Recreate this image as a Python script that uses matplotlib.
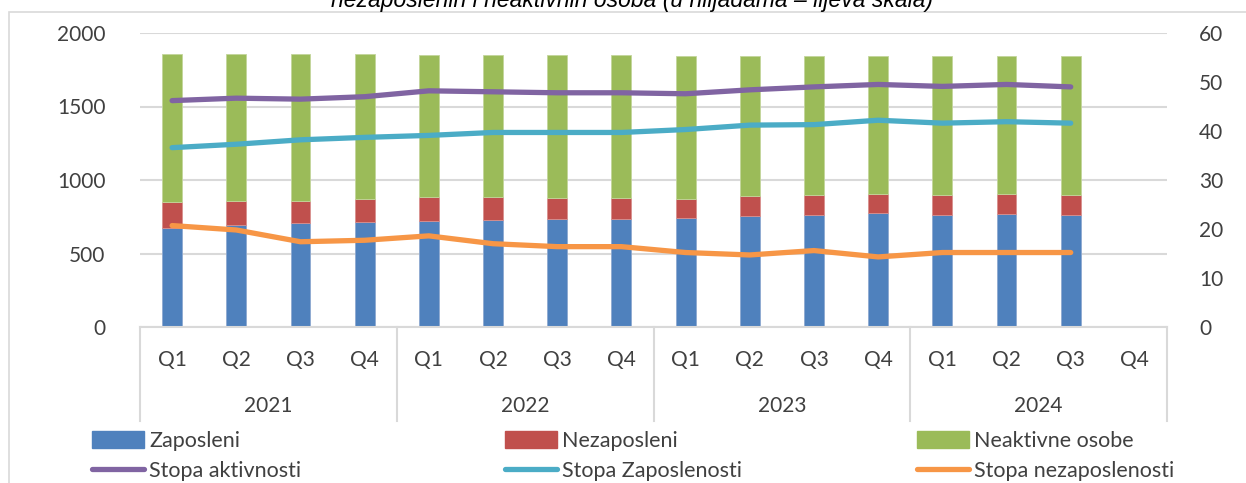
import matplotlib
matplotlib.use("Agg")
import matplotlib.pyplot as plt
import matplotlib.transforms as mtransforms
from matplotlib.patches import Rectangle
from matplotlib.lines import Line2D
import numpy as np

plt.rcParams['font.family'] = ['Lato', 'DejaVu Sans']

quarters = ["Q1", "Q2", "Q3", "Q4"] * 4
years = ["2021", "2022", "2023", "2024"]

zaposleni = [675, 692, 705, 717, 719, 730, 732, 732, 739, 755, 760, 775, 764, 769, 764, np.nan]
nezaposleni_top = [852, 859, 857, 869, 887, 882, 875, 875, 871, 889, 900, 907, 900, 907, 900, np.nan]
ukupno = [1855, 1855, 1855, 1855, 1849, 1849, 1849, 1849, 1846, 1846, 1846, 1846, 1846, 1846, 1846, np.nan]
nezaposleni = list(np.array(nezaposleni_top) - np.array(zaposleni))
neaktivne = list(np.array(ukupno) - np.array(nezaposleni_top))

stopa_aktivnosti = [46.2, 46.7, 46.5, 47.0, 48.2, 48.0, 47.8, 47.8, 47.6, 48.4, 49.0, 49.5, 49.1, 49.5, 49.0, np.nan]
stopa_zaposlenosti = [36.6, 37.3, 38.2, 38.7, 39.1, 39.7, 39.7, 39.7, 40.3, 41.2, 41.3, 42.2, 41.6, 41.9, 41.6, np.nan]
stopa_nezaposlenosti = [20.7, 19.8, 17.4, 17.7, 18.6, 17.0, 16.4, 16.4, 15.2, 14.7, 15.6, 14.3, 15.2, 15.2, 15.2, np.nan]

title = "nezaposlenih i neaktivnih osoba (u hiljadama – lijeva skala)"

c_blue, c_red, c_green = "#4F81BD", "#C0504D", "#9BBB59"
c_purple, c_cyan, c_orange = "#8064A2", "#4BACC6", "#F79646"
grid_c = "#D9D9D9"
text_c = "#404040"
fs = 15

W, H = 1246, 483
fig = plt.figure(figsize=(W / 100, H / 100), dpi=100)

# outer chart border
fig.patches.append(Rectangle((9 / W, -0.1), 1.2, 1 - 12 / H + 0.1, transform=fig.transFigure,
                             fill=False, edgecolor=grid_c, linewidth=1.2))

fig.text(0.507, 1 - 7 / H, title, ha="center", va="baseline", fontsize=16.5,
         style="italic", family=["Liberation Sans", "DejaVu Sans"], color="black")

left, right, top, bottom = 140, 1167, 33, 327
ax = fig.add_axes([left / W, 1 - bottom / H, (right - left) / W, (bottom - top) / H])
ax2 = ax.twinx()
ax.set_zorder(ax2.get_zorder() - 1)
ax.patch.set_visible(False)

x = np.arange(len(quarters))
bw = 0.31
ax.bar(x, zaposleni, bw, color=c_blue, edgecolor="#8EA9D0", linewidth=0.6, zorder=3)
ax.bar(x, nezaposleni, bw, bottom=zaposleni, color=c_red, edgecolor="#D9908E", linewidth=0.6, zorder=3)
ax.bar(x, neaktivne, bw, bottom=nezaposleni_top, color=c_green, edgecolor="#C3D69B", linewidth=0.6, zorder=3)

lw = 3.8
ax2.plot(x, stopa_aktivnosti, color=c_purple, lw=lw, solid_capstyle="round", solid_joinstyle="round")
ax2.plot(x, stopa_zaposlenosti, color=c_cyan, lw=lw, solid_capstyle="round", solid_joinstyle="round")
ax2.plot(x, stopa_nezaposlenosti, color=c_orange, lw=lw, solid_capstyle="round", solid_joinstyle="round")

ax.set_xlim(-0.5, len(quarters) - 0.5)
ax.set_ylim(0, 2000)
ax.set_yticks([0, 500, 1000, 1500, 2000])
ax2.set_ylim(0, 60)
ax2.set_yticks([0, 10, 20, 30, 40, 50, 60])

ax.yaxis.grid(True, color=grid_c, linewidth=1.5, zorder=0)
ax.set_axisbelow(True)
for a in (ax, ax2):
    for s in ("top", "left", "right", "bottom"):
        a.spines[s].set_visible(False)
    a.tick_params(axis="y", length=0, labelsize=fs, labelcolor=text_c)
ax.tick_params(axis="y", pad=25)
ax2.tick_params(axis="y", pad=23)
ax.set_xticks([])
ax2.set_xticks([])

# bottom axis line
ax.axhline(0, color=grid_c, linewidth=1.5, zorder=4, clip_on=False)

# multi-level category axis
trans = mtransforms.blended_transform_factory(ax.transData, fig.transFigure)
for i, q in enumerate(quarters):
    ax.text(i, 1 - 360 / H, q, transform=trans, ha="center", va="center", fontsize=fs, color=text_c)
for j, yv in enumerate(years):
    ax.text(j * 4 + 1.5, 1 - 406 / H, yv, transform=trans, ha="center", va="center", fontsize=fs, color=text_c)
for k in range(5):
    xs = k * 4 - 0.5
    ax.add_line(Line2D([xs, xs], [1 - 327 / H, 1 - 421 / H], transform=trans, color=grid_c,
                       linewidth=1.5, clip_on=False))

# legend: three columns placed at the reference positions
columns = [
    ([Rectangle((0, 0), 1, 1, color=c_blue), Line2D([], [], color=c_purple, lw=lw, solid_capstyle="round")],
     ["Zaposleni", "Stopa aktivnosti"], 92),
    ([Rectangle((0, 0), 1, 1, color=c_red), Line2D([], [], color=c_cyan, lw=lw, solid_capstyle="round")],
     ["Nezaposleni", "Stopa Zaposlenosti"], 505),
    ([Rectangle((0, 0), 1, 1, color=c_green), Line2D([], [], color=c_orange, lw=lw, solid_capstyle="round")],
     ["Neaktivne osobe", "Stopa nezaposlenosti"], 917),
]
for hs, ls, xpx in columns:
    leg = fig.legend(hs, ls, ncol=1, loc="center left", bbox_to_anchor=(xpx / W, 1 - 456 / H),
                     frameon=False, fontsize=15.5, handlelength=2.4, handleheight=0.8, handletextpad=0.25,
                     labelspacing=0.45, borderaxespad=0, borderpad=0)
    for t in leg.get_texts():
        t.set_color(text_c)

fig.savefig("out.png", dpi=100)
